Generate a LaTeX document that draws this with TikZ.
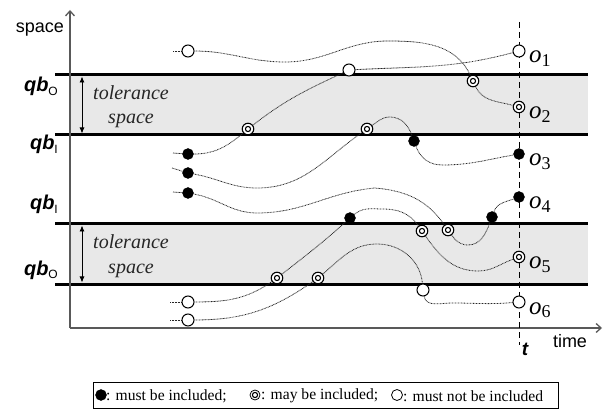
\documentclass[tikz,border=0pt]{standalone}
\usepackage{fontspec}
\setmainfont{Liberation Serif}
\setsansfont{Liberation Sans}
\usetikzlibrary{arrows.meta}
\pgfdeclarelayer{bg}
\pgfsetlayers{bg,main}

% bounds label: bold italic sans with an upright sans subscript
\newcommand{\qblabel}[1]{{\fontsize{20}{20}\selectfont\sffamily\bfseries\itshape qb\raisebox{-0.35ex}{\fontsize{12}{12}\selectfont\mdseries\upshape #1}}}
% object label o_i
\newcommand{\objlabel}[1]{{\fontsize{25}{25}\selectfont\itshape o\upshape\raisebox{-0.3ex}{\fontsize{18}{18}\selectfont #1}}}

\begin{document}
\begin{tikzpicture}[x=1pt,y=1pt,
  traj/.style={line width=0.8pt, black!85, dash pattern={on 0.8pt off 0.7pt}},
  must/.style={circle, fill=black, draw=black, minimum size=11pt, inner sep=0pt},
  maybe/.style={circle, fill=white, draw=black, line width=1.1pt, minimum size=11.5pt, inner sep=0pt,
    path picture={\draw[line width=1.1pt] (path picture bounding box.center) circle (2.6pt);}},
  mustnot/.style={circle, fill=white, draw=black, line width=1pt, minimum size=12pt, inner sep=0pt},
  bound/.style={line width=3pt},
  band/.style={fill=gray!18},
  axisline/.style={line width=1.3pt, black!65, -{Straight Barb[length=5pt,width=9pt]}},
  tolarrow/.style={line width=0.8pt, {Latex[length=6pt,width=5pt]}-{Latex[length=6pt,width=5pt]}},
  tollabel/.style={anchor=base, font=\fontsize{20}{20}\selectfont\itshape, text=black!85},
  axislabel/.style={anchor=base, font=\fontsize{18}{18}\selectfont\sffamily},
  legtext/.style={anchor=west, font=\fontsize{15.6}{15.6}\selectfont, inner sep=0pt},
]
\useasboundingbox (0,0) rectangle (613,410);

% ---- axes and fixed references ----
\coordinate (org) at (70,82);
\coordinate (ytop) at (70,400);
\coordinate (xend) at (602,82);
\coordinate (ttop) at (519,388);
\coordinate (tbot) at (519,65);

% query bounds (upper band, lower band)
\coordinate (qo1L) at (55,335);  \coordinate (qo1R) at (588,335);
\coordinate (qi1L) at (55,275);  \coordinate (qi1R) at (588,275);
\coordinate (qi2L) at (55,186);  \coordinate (qi2R) at (588,186);
\coordinate (qo2L) at (55,126);  \coordinate (qo2R) at (588,126);
\coordinate (tol1a) at (82,333.5); \coordinate (tol1b) at (82,276.5);
\coordinate (tol2a) at (82,184.5); \coordinate (tol2b) at (82,127.5);

% ---- labels ----
\node[axislabel] (lspace) at (40,377) {space};
\node[axislabel] (ltime) at (570,63) {time};
\node[anchor=base, font=\fontsize{19}{19}\selectfont\sffamily\bfseries\itshape] (lt) at (525,55) {t};

\node[anchor=base east, inner sep=0pt] (lqo1) at (58,318) {\qblabel{O}};
\node[anchor=base east, inner sep=0pt] (lqi1) at (58,260) {\qblabel{I}};
\node[anchor=base east, inner sep=0pt] (lqi2) at (58,200) {\qblabel{I}};
\node[anchor=base east, inner sep=0pt] (lqo2) at (58,135) {\qblabel{O}};

\node[tollabel] (tolA1) at (131,310) {tolerance};
\node[tollabel] (tolA2) at (131,286) {space};
\node[tollabel] (tolB1) at (131,161) {tolerance};
\node[tollabel] (tolB2) at (131,136) {space};

% ---- objects at time t ----
\node[mustnot] (o1) at (519,359) {};
\node[maybe]   (o2) at (519,303) {};
\node[must]    (o3) at (519,256) {};
\node[must]    (o4) at (519,213) {};
\node[maybe]   (o5) at (519,153) {};
\node[mustnot] (o6) at (519,108) {};
\foreach \i/\y in {1/359,2/303,3/256,4/213,5/153,6/108}
  \node[anchor=base west, inner sep=0pt] (lo\i) at (529,\y-12) {\objlabel{\i}};

% ---- trajectory starts ----
\node[mustnot] (s1) at (188,359) {};
\node[must]    (s2) at (188,256) {};
\node[must]    (s3) at (188,237) {};
\node[must]    (s4) at (188,217) {};
\node[mustnot] (s5) at (188,108) {};
\node[mustnot] (s6) at (188,90) {};
\coordinate (l1) at (173,359);
\coordinate (l2) at (173,257);
\coordinate (l3) at (172,242);
\coordinate (l4) at (173,218);
\coordinate (l5) at (170,108);
\coordinate (l6) at (170,90);

% ---- intermediate samples ----
\node[maybe]   (a) at (473,329) {};
\node[maybe]   (b) at (248,281) {};
\node[mustnot] (c) at (349,340) {};
\node[maybe]   (d) at (367,281) {};
\node[must]    (e) at (414,269) {};
\node[maybe]   (f) at (448,180) {};
\node[must]    (g) at (492,193) {};
\node[maybe]   (h) at (277,132) {};
\node[must]    (i) at (350,192) {};
\node[maybe]   (j) at (422,179) {};
\node[maybe]   (k) at (318,132) {};
\node[mustnot] (l) at (423,120) {};

% waypoints of the curves
\coordinate (w1a) at (285,348);  \coordinate (w1b) at (388,369);
\coordinate (w3a) at (257,222);  \coordinate (w3b) at (390,293);  \coordinate (w3c) at (442,245);
\coordinate (w4a) at (257,197);  \coordinate (w4b) at (375,222);  \coordinate (w4c) at (468,165);
\coordinate (w5a) at (383,201);  \coordinate (w5b) at (478,139);
\coordinate (w6a) at (377,166);  \coordinate (w6b) at (452,107);

% ---- legend ----
\coordinate (legSW) at (93,2);
\coordinate (legNE) at (558,28);
\node[must, minimum size=11pt] (k1) at (101,15) {};
\node[legtext] (t1) at (106,14) {: must be included;};
\node[maybe, minimum size=10pt, line width=0.8pt] (k2) at (255,15) {};
\node[legtext] (t2) at (261,14) {: may be included;};
\node[mustnot, minimum size=11pt, line width=0.8pt] (k3) at (397,15) {};
\node[legtext] (t3) at (403,14) {: must not be included};

\begin{pgfonlayer}{bg}
  % tolerance bands
  \fill[band] (70,275) rectangle (588,335);
  \fill[band] (70,126) rectangle (588,186);
  \draw[bound] (qo1L) -- (qo1R);
  \draw[bound] (qi1L) -- (qi1R);
  \draw[bound] (qi2L) -- (qi2R);
  \draw[bound] (qo2L) -- (qo2R);
  \draw[tolarrow] (tol1a) -- (tol1b);
  \draw[tolarrow] (tol2a) -- (tol2b);
  % axes
  \draw[axisline] (org) -- (ytop);
  \draw[axisline] (org) -- (xend);
  % time instant t
  \draw[line width=1pt, dash pattern={on 6pt off 4pt}] (ttop) -- (tbot);

  % lead-in segments
  \foreach \n in {1,...,6} \draw[traj] (l\n) -- (s\n);

  % trajectories
  \draw[traj] (s1) to[out=0,in=180] (w1a) to[out=0,in=180] (w1b)
              to[out=0,in=115] (a) to[out=-65,in=165] (o2);
  \draw[traj] (s2) to[out=0,in=220] (b) to[out=38,in=205] (c)
              to[out=3,in=195] (o1);
  \draw[traj] (s3) to[out=-10,in=180] (w3a) to[out=0,in=215] (d)
              to[out=35,in=180] (w3b) to[out=0,in=110] (e)
              to[out=-70,in=180] (w3c) to[out=0,in=190] (o3);
  \draw[traj] (s4) to[out=-10,in=180] (w4a) to[out=0,in=185] (w4b)
              to[out=-5,in=125] (f) to[out=-55,in=180] (w4c)
              to[out=0,in=250] (g) to[out=70,in=200] (o4);
  \draw[traj] (s5) to[out=0,in=215] (h) to[out=38,in=222] (i)
              to[out=40,in=180] (w5a) to[out=0,in=125] (j)
              to[out=-55,in=180] (w5b) to[out=0,in=200] (o5);
  \draw[traj] (s6) to[out=0,in=215] (k) to[out=40,in=180] (w6a)
              to[out=0,in=95] (l) to[out=-80,in=180] (w6b) to[out=0,in=185] (o6);

  % legend frame
  \draw[line width=0.8pt] (legSW) rectangle (legNE);
\end{pgfonlayer}
\end{tikzpicture}
\end{document}
